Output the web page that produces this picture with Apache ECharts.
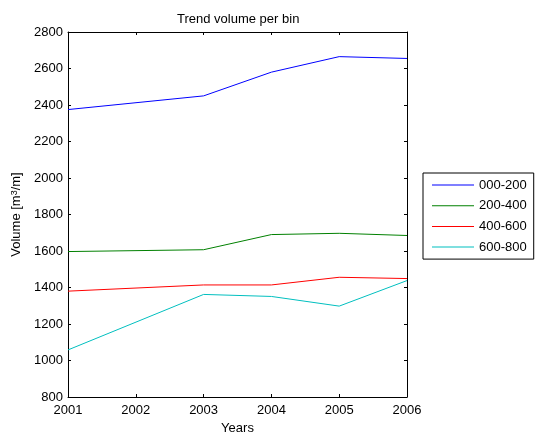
<!DOCTYPE html>
<html>
<head>
<meta charset="utf-8">
<script src="https://cdn.jsdelivr.net/npm/echarts@6/dist/echarts.min.js"></script>
<style>
  html, body { margin: 0; padding: 0; background: #fff; }
  #chart { width: 536px; height: 440px; }
</style>
</head>
<body>
<div id="chart"></div>
<script>
// data (2002 has no sample, lines go straight 2001 -> 2003)
var years = [2001, 2003, 2004, 2005, 2006];
var bins = ['000-200', '200-400', '400-600', '600-800'];
var vol000 = [2375, 2450, 2580, 2665, 2655];
var vol200 = [1597, 1607, 1690, 1697, 1685];
var vol400 = [1380, 1414, 1414, 1456, 1449];
var vol600 = [1058, 1362, 1351, 1298, 1438];
var yTicks = [800, 2800, 200];   // min, max, step
var xTicks = [2001, 2006, 1];

var colors = ['#0000ff', '#008000', '#ff0000', '#00bfbf'];
var font = 'Liberation Sans, Arial, sans-serif';

function pairs(vals) {
    return years.map(function (y, i) { return [y, vals[i]]; });
}
function plain(v) { return String(v); }

var chart = echarts.init(document.getElementById('chart'));

var axisLine = { show: true, lineStyle: { color: '#000', width: 1 } };
var tick = { show: true, inside: true, length: 3, lineStyle: { color: '#000' } };

chart.setOption({
    animation: false,
    color: colors,
    textStyle: { fontFamily: font },
    title: {
        text: 'Trend volume per bin',
        left: 172,
        top: 8,
        textStyle: { fontSize: 13, fontWeight: 'normal', color: '#000', fontFamily: font }
    },
    legend: {
        orient: 'vertical',
        left: 423,
        top: 173,
        padding: [5, 7, 5, 9],
        itemGap: 6.7,
        itemWidth: 42,
        itemHeight: 1,
        icon: 'rect',
        borderColor: '#000',
        borderWidth: 1,
        textStyle: { fontSize: 13, lineHeight: 14, color: '#000', fontFamily: font },
        data: bins
    },
    grid: {
        left: 68,
        right: 129,
        top: 32,
        bottom: 40
    },
    xAxis: [{
        type: 'value',
        min: xTicks[0],
        max: xTicks[1],
        interval: xTicks[2],
        name: 'Years',
        nameLocation: 'middle',
        nameGap: 25,
        nameTextStyle: { fontSize: 13, color: '#000' },
        axisLine: axisLine,
        axisTick: tick,
        splitLine: { show: false },
        axisLabel: { color: '#000', fontSize: 13, margin: 7, formatter: plain }
    }, {
        type: 'value',
        position: 'top',
        min: xTicks[0],
        max: xTicks[1],
        interval: xTicks[2],
        axisLine: axisLine,
        axisTick: tick,
        splitLine: { show: false },
        axisLabel: { show: false }
    }],
    yAxis: [{
        type: 'value',
        min: yTicks[0],
        max: yTicks[1],
        interval: yTicks[2],
        name: 'Volume [m{sup|3}/m]',
        nameLocation: 'middle',
        nameGap: 42,
        nameTextStyle: {
            fontSize: 13,
            color: '#000',
            rich: { sup: { fontSize: 9, verticalAlign: 'top', color: '#000' } }
        },
        axisLine: axisLine,
        axisTick: tick,
        splitLine: { show: false },
        axisLabel: { color: '#000', fontSize: 13, margin: 5, formatter: plain }
    }, {
        type: 'value',
        position: 'right',
        min: yTicks[0],
        max: yTicks[1],
        interval: yTicks[2],
        axisLine: axisLine,
        axisTick: tick,
        splitLine: { show: false },
        axisLabel: { show: false }
    }],
    series: [
        { name: bins[0], type: 'line', symbol: 'none', lineStyle: { width: 1 }, data: pairs(vol000) },
        { name: bins[1], type: 'line', symbol: 'none', lineStyle: { width: 1 }, data: pairs(vol200) },
        { name: bins[2], type: 'line', symbol: 'none', lineStyle: { width: 1 }, data: pairs(vol400) },
        { name: bins[3], type: 'line', symbol: 'none', lineStyle: { width: 1 }, data: pairs(vol600) }
    ]
});
</script>
</body>
</html>
